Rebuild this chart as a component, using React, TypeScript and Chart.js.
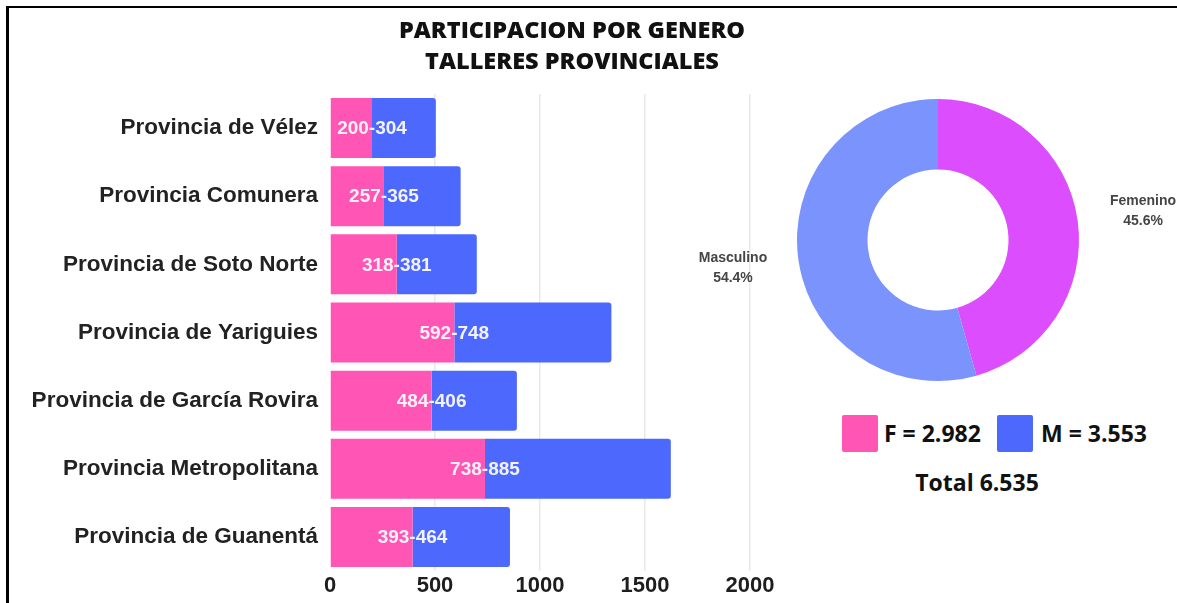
import React, { useEffect, useRef } from "react";
import { Chart, registerables } from "chart.js";

Chart.register(...registerables);

const provinces = [
  "Provincia de Vélez",
  "Provincia Comunera",
  "Provincia de Soto Norte",
  "Provincia de Yariguies",
  "Provincia de García Rovira",
  "Provincia Metropolitana",
  "Provincia de Guanentá",
];
const femenino = [200, 257, 318, 592, 484, 738, 393];
const masculino = [304, 365, 381, 748, 406, 885, 464];
const xTicks = [0, 500, 1000, 1500, 2000];

const donutLabels = ["Femenino", "Masculino"];
const donutPercents = [45.6, 54.4];

const PINK = "#ff55b5";
const BLUE = "#4d69fd";
const DONUT_F = "#dc4dfd";
const DONUT_M = "#7b93fc";

const barLabelPlugin = {
  id: "barLabels",
  afterDatasetsDraw(chart: any) {
    const ctx = chart.ctx;
    const meta = chart.getDatasetMeta(0);
    ctx.save();
    ctx.font = "bold 19px 'Liberation Sans', Arial, sans-serif";
    ctx.fillStyle = "rgba(255,255,255,0.92)";
    ctx.textAlign = "center";
    ctx.textBaseline = "middle";
    meta.data.forEach((el: any, i: number) => {
      ctx.fillText(`${femenino[i]}-${masculino[i]}`, el.x, el.y + 1);
    });
    ctx.restore();
  },
};

const donutLabelPlugin = {
  id: "donutLabels",
  afterDatasetsDraw(chart: any) {
    const ctx = chart.ctx;
    const meta = chart.getDatasetMeta(0);
    ctx.save();
    ctx.font = "bold 14px 'Liberation Sans', Arial, sans-serif";
    ctx.fillStyle = "#454545";
    ctx.textAlign = "center";
    ctx.textBaseline = "middle";
    meta.data.forEach((arc: any, i: number) => {
      const mid = (arc.startAngle + arc.endAngle) / 2;
      const r = arc.outerRadius + 66;
      const x = arc.x + Math.cos(mid) * r;
      const y = arc.y + Math.sin(mid) * r;
      ctx.fillText(donutLabels[i], x, y - 10);
      ctx.fillText(`${donutPercents[i].toFixed(1)}%`, x, y + 10);
    });
    ctx.restore();
  },
};

export default function App() {
  const barRef = useRef<HTMLCanvasElement>(null);
  const donutRef = useRef<HTMLCanvasElement>(null);

  useEffect(() => {
    const bar = new Chart(barRef.current!, {
      type: "bar",
      data: {
        labels: provinces,
        datasets: [
          {
            label: "F",
            data: femenino,
            backgroundColor: PINK,
            borderWidth: 0,
            barPercentage: 0.88,
            categoryPercentage: 1,
          },
          {
            label: "M",
            data: masculino,
            backgroundColor: BLUE,
            borderWidth: 0,
            borderRadius: 3,
            barPercentage: 0.88,
            categoryPercentage: 1,
          },
        ],
      },
      options: {
        indexAxis: "y",
        animation: false,
        responsive: false,
        maintainAspectRatio: false,
        layout: { padding: { top: 94, right: 30, left: 0, bottom: 0 } },
        plugins: {
          legend: { display: false },
          title: { display: false },
          tooltip: { enabled: false },
        },
        scales: {
          x: {
            stacked: true,
            min: 0,
            max: 2000,
            afterBuildTicks: (s: any) => {
              s.ticks = xTicks.map((v) => ({ value: v }));
            },
            afterFit: (s: any) => {
              s.height = 32;
            },
            border: { display: false },
            grid: {
              color: (c: any) => (c.tick && c.tick.value === 0 ? "rgba(0,0,0,0)" : "#e9e9e9"),
              lineWidth: 1.5,
              drawTicks: false,
            },
            ticks: {
              padding: 2,
              color: "#1e1e1e",
              callback: (v: any) => String(v),
              font: { family: "'Liberation Sans', Arial, sans-serif", size: 22, weight: "bold" },
            },
          },
          y: {
            stacked: true,
            afterFit: (s: any) => {
              s.width = 330;
            },
            border: { display: false },
            grid: { display: false, drawTicks: false },
            ticks: {
              padding: 12,
              color: "#222222",
              font: { family: "'Liberation Sans', Arial, sans-serif", size: 22.5, weight: "bold" },
            },
          },
        },
      },
      plugins: [barLabelPlugin],
    } as any);

    const donut = new Chart(donutRef.current!, {
      type: "doughnut",
      data: {
        labels: donutLabels,
        datasets: [
          {
            data: donutPercents,
            backgroundColor: [DONUT_F, DONUT_M],
            borderWidth: 0,
          },
        ],
      },
      options: {
        animation: false,
        responsive: false,
        maintainAspectRatio: false,
        cutout: "50%",
        layout: { padding: { left: 117, right: 98, top: 9, bottom: 9 } },
        plugins: {
          legend: { display: false },
          tooltip: { enabled: false },
        },
      },
      plugins: [donutLabelPlugin],
    } as any);

    return () => {
      bar.destroy();
      donut.destroy();
    };
  }, []);

  const legendFont = "'Open Sans', 'Noto Sans', sans-serif";

  return (
    <div
      style={{
        position: "fixed",
        left: 0,
        top: 0,
        width: 1177,
        height: 603,
        background: "#ffffff",
        overflow: "hidden",
      }}
    >
      <div
        style={{
          position: "absolute",
          left: 6,
          top: 6,
          right: -10,
          bottom: -10,
          borderLeft: "3px solid #000",
          borderTop: "2px solid #000",
        }}
      />
      <canvas
        ref={barRef}
        width={780}
        height={603}
        style={{ position: "absolute", left: 0, top: 0, width: 780, height: 603 }}
      />
      <canvas
        ref={donutRef}
        width={497}
        height={300}
        style={{ position: "absolute", left: 680, top: 90, width: 497, height: 300 }}
      />
      <div
        style={{
          position: "absolute",
          left: 0,
          width: 1144,
          top: 14,
          textAlign: "center",
          fontFamily: legendFont,
          fontWeight: 800,
          fontSize: 23.5,
          lineHeight: "31px",
          color: "#111",
          whiteSpace: "nowrap",
        }}
      >
        PARTICIPACION POR GENERO
        <br />
        TALLERES PROVINCIALES
      </div>
      <div style={{ position: "absolute", left: 842, top: 415, width: 36, height: 37, background: PINK, borderRadius: 2 }} />
      <div
        style={{
          position: "absolute",
          left: 884,
          top: 417,
          fontFamily: legendFont,
          fontWeight: 700,
          fontSize: 23,
          lineHeight: "32px",
          color: "#111",
          whiteSpace: "nowrap",
        }}
      >
        F = 2.982
      </div>
      <div style={{ position: "absolute", left: 997, top: 415, width: 36, height: 37, background: BLUE, borderRadius: 2 }} />
      <div
        style={{
          position: "absolute",
          left: 1041,
          top: 417,
          fontFamily: legendFont,
          fontWeight: 700,
          fontSize: 23,
          lineHeight: "32px",
          color: "#111",
          whiteSpace: "nowrap",
        }}
      >
        M = 3.553
      </div>
      <div
        style={{
          position: "absolute",
          left: 877,
          width: 200,
          top: 466,
          textAlign: "center",
          fontFamily: legendFont,
          fontWeight: 700,
          fontSize: 23,
          lineHeight: "32px",
          color: "#111",
          whiteSpace: "nowrap",
        }}
      >
        Total 6.535
      </div>
    </div>
  );
}
